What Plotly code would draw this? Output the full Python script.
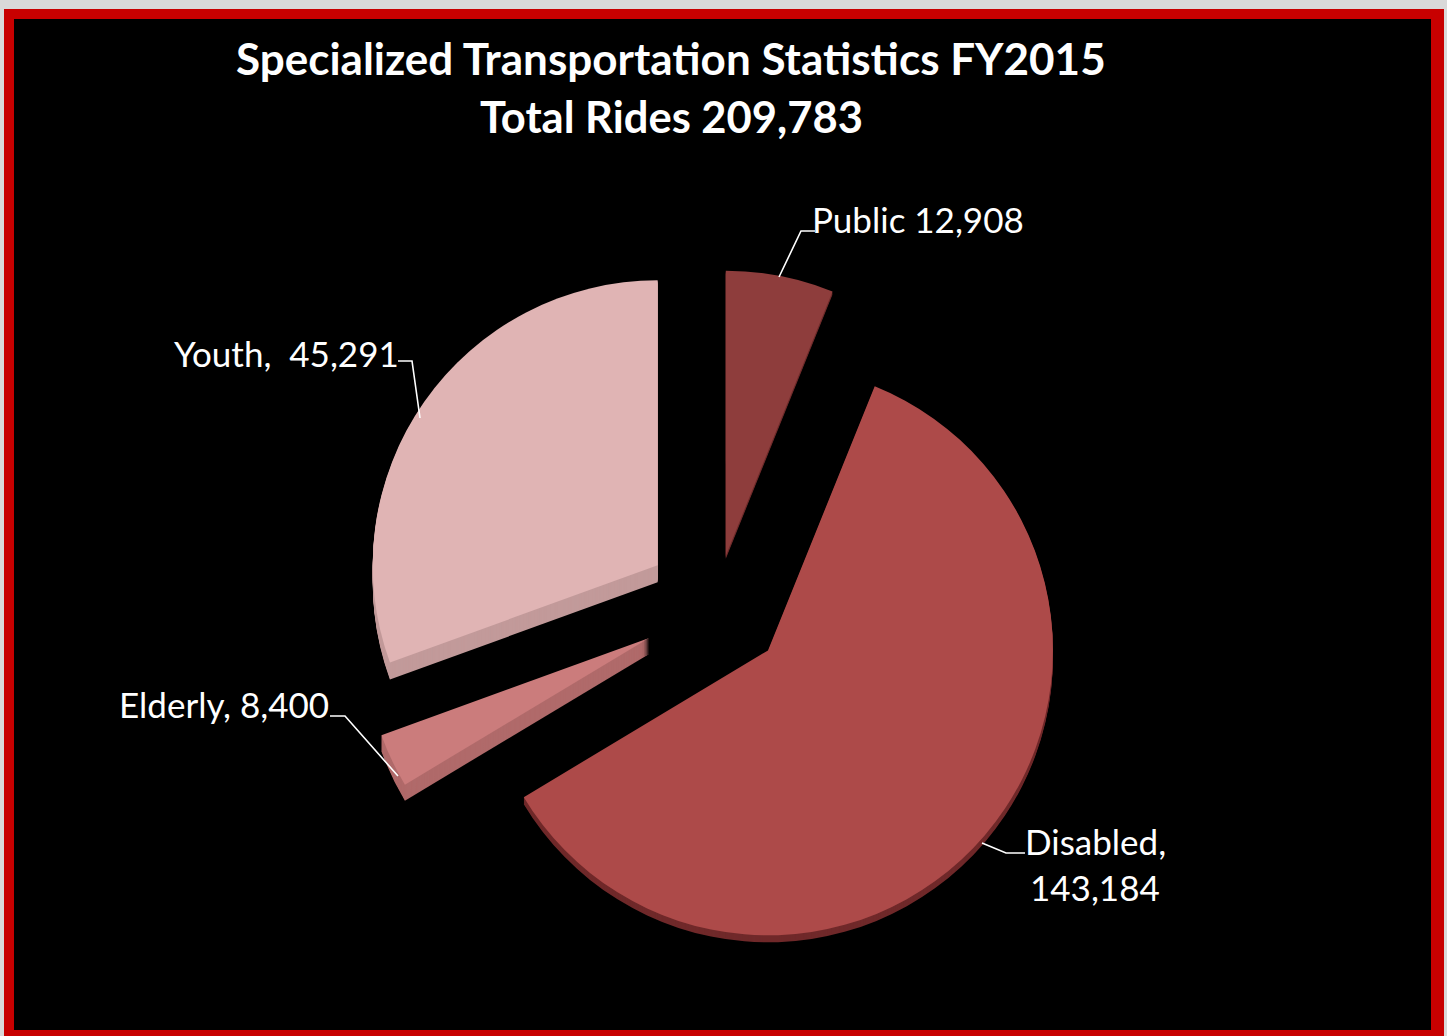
import plotly.graph_objects as go

W, H = 1447, 1036

categories = ["Public", "Disabled", "Elderly", "Youth"]
rides = [12908, 143184, 8400, 45291]
# Slice sizes as they appear in the perspective-distorted reference (degrees of sweep)
drawn_sweep = [22, 217, 11, 110]
pull = [0.18, 0.24, 0.26, 0.25]
top_colors = ["#8E3D3C", "#AD4A49", "#CB7C7C", "#E0B4B4"]
side_colors = ["#6E2C2B", "#70292A", "#B06A6A", "#C29A9A"]
side_depth = [3, 7, 16, 17]
title_lines = ["Specialized Transportation Statistics FY2015", "Total Rides 209,783"]

def fx(px): return px / W
def fy(px): return 1 - px / H

cx, cy, half = 716, 606, 359

def pie(colors, dy):
    return go.Pie(
        labels=categories, values=drawn_sweep, pull=pull, sort=False,
        direction="clockwise", rotation=0, textinfo="none", hoverinfo="skip",
        showlegend=False, marker=dict(colors=colors, line=dict(width=0)),
        domain=dict(x=[fx(cx - half), fx(cx + half)],
                    y=[fy(cy + dy + half), fy(cy + dy - half)]),
    )

traces = []
for dy in range(max(side_depth), 0, -1):
    layer_colors = [c if dy <= d else "rgba(0,0,0,0)" for c, d in zip(side_colors, side_depth)]
    traces.append(pie(layer_colors, dy))
traces.append(pie(top_colors, 0))
fig = go.Figure(traces)

def rect(x0, y0, x1, y1, color):
    return dict(type="rect", xref="paper", yref="paper", layer="below",
                x0=fx(x0), x1=fx(x1), y0=fy(y1), y1=fy(y0),
                fillcolor=color, line=dict(width=0))

def leader(points):
    d = "M " + " L ".join(f"{fx(x):.5f},{fy(y):.5f}" for x, y in points)
    return dict(type="path", xref="paper", yref="paper", path=d,
                line=dict(color="white", width=1.6))

shapes = [
    rect(4, 9, 1444, 1036, "#C80000"),
    rect(14, 19, 1431, 1030, "#000000"),
    leader([(815, 231), (801, 231), (779, 277)]),
    leader([(398, 361), (412, 361), (420, 418)]),
    leader([(330, 716), (345, 716), (398, 776)]),
    leader([(1025, 853), (1006, 853), (982, 843)]),
]

def label(x, y, text, size=35):
    return dict(xref="paper", yref="paper", x=fx(x), y=fy(y), text=text,
                showarrow=False, xanchor="center", yanchor="middle", align="center",
                font=dict(family="Lato", size=size, color="white"))

def fmt(v): return f"{v:,}"

annotations = [
    label(671, 58, f"<b>{title_lines[0]}</b>", 44),
    label(671, 116, f"<b>{title_lines[1]}</b>", 43.5),
    label(918, 219, f"{categories[0]} {fmt(rides[0])}"),
    label(1095, 841, f"{categories[1]},"),
    label(1095, 887, fmt(rides[1])),
    label(224, 704, f"{categories[2]}, {fmt(rides[2])}"),
    label(286, 353, f"{categories[3]},  {fmt(rides[3])}"),
]

fig.update_layout(width=W, height=H, margin=dict(l=0, r=0, t=0, b=0),
                  paper_bgcolor="#D9D9D9", plot_bgcolor="#000000",
                  shapes=shapes, annotations=annotations)

fig.write_html("out.html", config=dict(displayModeBar=False),
               post_script="document.body.style.margin='0';document.body.style.background='#D9D9D9';")
